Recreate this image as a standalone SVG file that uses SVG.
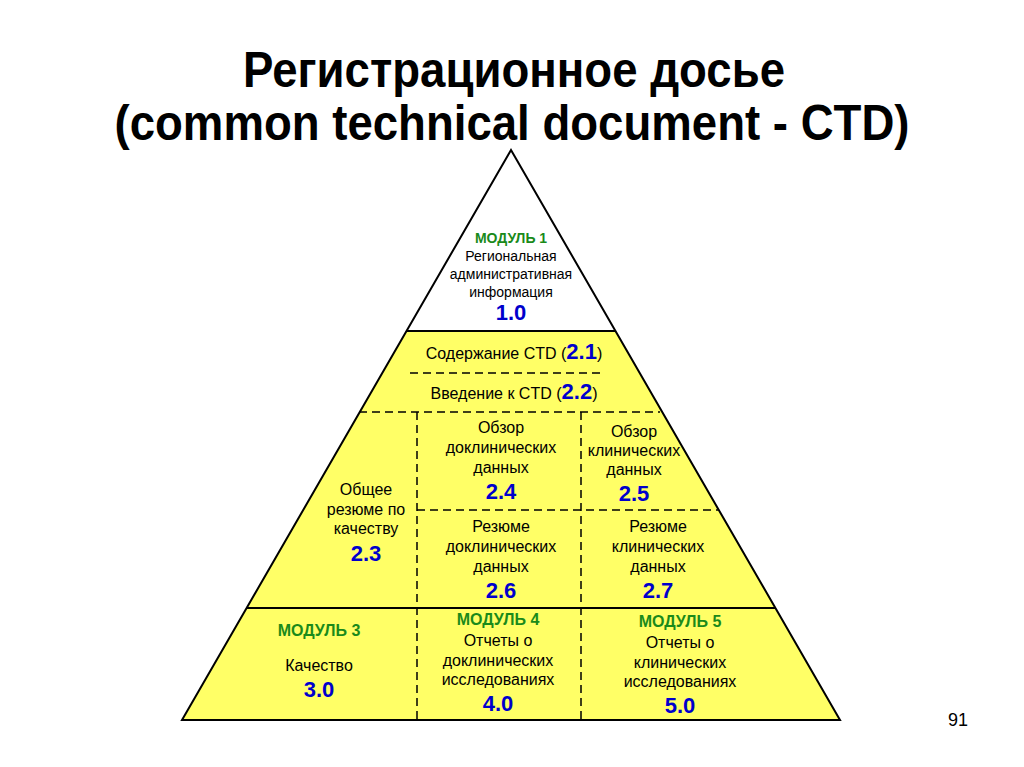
<svg xmlns="http://www.w3.org/2000/svg" width="1024" height="767" viewBox="0 0 1024 767">
<style>
text{font-family:"Liberation Sans",Arial,sans-serif;text-anchor:middle;fill:#000}
.t{font-size:50px;font-weight:bold}
.a{font-size:14px}
.b{font-size:16px}
.m{font-size:16px;font-weight:bold;fill:#1a8a1a}
.m1{font-size:14px}
.n{font-size:22px;font-weight:bold;fill:#0000cc}
.d{fill:none;stroke:#000;stroke-width:1.5;stroke-dasharray:8,5}
.s{fill:none;stroke:#000;stroke-width:2}
</style>
<rect width="1024" height="767" fill="#fff"/>
<text class="t" x="514" y="87" textLength="542" lengthAdjust="spacingAndGlyphs">Регистрационное досье</text>
<text class="t" x="512" y="140" textLength="795" lengthAdjust="spacingAndGlyphs">(common technical document - CTD)</text>
<g id="pyramid">
<polygon points="511,150 406.5,331 615.5,331" fill="#fff"/>
<polygon points="406.5,331 615.5,331 840,720 182,720" fill="#ffff66"/>
</g>
<g id="connectors">
<polygon class="s" points="511,150 840,720 182,720"/>
<line class="s" x1="406.5" y1="331" x2="615.5" y2="331"/>
<line class="s" x1="246.7" y1="608" x2="775.3" y2="608"/>
<line class="d" x1="410" y1="373" x2="604" y2="373"/>
<line class="d" x1="359" y1="412" x2="660" y2="412"/>
<line class="d" x1="417" y1="412" x2="417" y2="720"/>
<line class="d" x1="581" y1="412" x2="581" y2="720"/>
<line class="d" x1="417" y1="510" x2="718" y2="510"/>
</g>
<g id="m1">
<text class="m m1" x="511" y="243">МОДУЛЬ 1</text>
<text class="a" x="511" y="261">Региональная</text>
<text class="a" x="511" y="279">административная</text>
<text class="a" x="511" y="297">информация</text>
<text class="n" x="511" y="320">1.0</text>
</g>
<g id="n21"><text class="b" x="514" y="359">Содержание CTD (<tspan class="n">2.1</tspan>)</text></g>
<g id="n22"><text class="b" x="514" y="399">Введение к CTD (<tspan class="n">2.2</tspan>)</text></g>
<g id="n24">
<text class="b" x="501" y="433">Обзор</text>
<text class="b" x="501" y="453">доклинических</text>
<text class="b" x="501" y="473">данных</text>
<text class="n" x="501" y="499">2.4</text>
</g>
<g id="n25">
<text class="b" x="634" y="437">Обзор</text>
<text class="b" x="634" y="456">клинических</text>
<text class="b" x="634" y="475">данных</text>
<text class="n" x="634" y="501">2.5</text>
</g>
<g id="n23">
<text class="b" x="366" y="495">Общее</text>
<text class="b" x="366" y="515">резюме по</text>
<text class="b" x="366" y="534">качеству</text>
<text class="n" x="366" y="561">2.3</text>
</g>
<g id="n26">
<text class="b" x="501" y="532">Резюме</text>
<text class="b" x="501" y="552">доклинических</text>
<text class="b" x="501" y="572">данных</text>
<text class="n" x="501" y="598">2.6</text>
</g>
<g id="n27">
<text class="b" x="658" y="532">Резюме</text>
<text class="b" x="658" y="552">клинических</text>
<text class="b" x="658" y="572">данных</text>
<text class="n" x="658" y="598">2.7</text>
</g>
<g id="m3">
<text class="m" x="319" y="636">МОДУЛЬ 3</text>
<text class="b" x="319" y="671">Качество</text>
<text class="n" x="319" y="697">3.0</text>
</g>
<g id="m4">
<text class="m" x="498" y="625">МОДУЛЬ 4</text>
<text class="b" x="498" y="646">Отчеты о</text>
<text class="b" x="498" y="666">доклинических</text>
<text class="b" x="498" y="685">исследованиях</text>
<text class="n" x="498" y="711">4.0</text>
</g>
<g id="m5">
<text class="m" x="680" y="627">МОДУЛЬ 5</text>
<text class="b" x="680" y="648">Отчеты о</text>
<text class="b" x="680" y="668">клинических</text>
<text class="b" x="680" y="687">исследованиях</text>
<text class="n" x="680" y="713">5.0</text>
</g>
<text x="958" y="726" style="font-size:18px">91</text>
</svg>
